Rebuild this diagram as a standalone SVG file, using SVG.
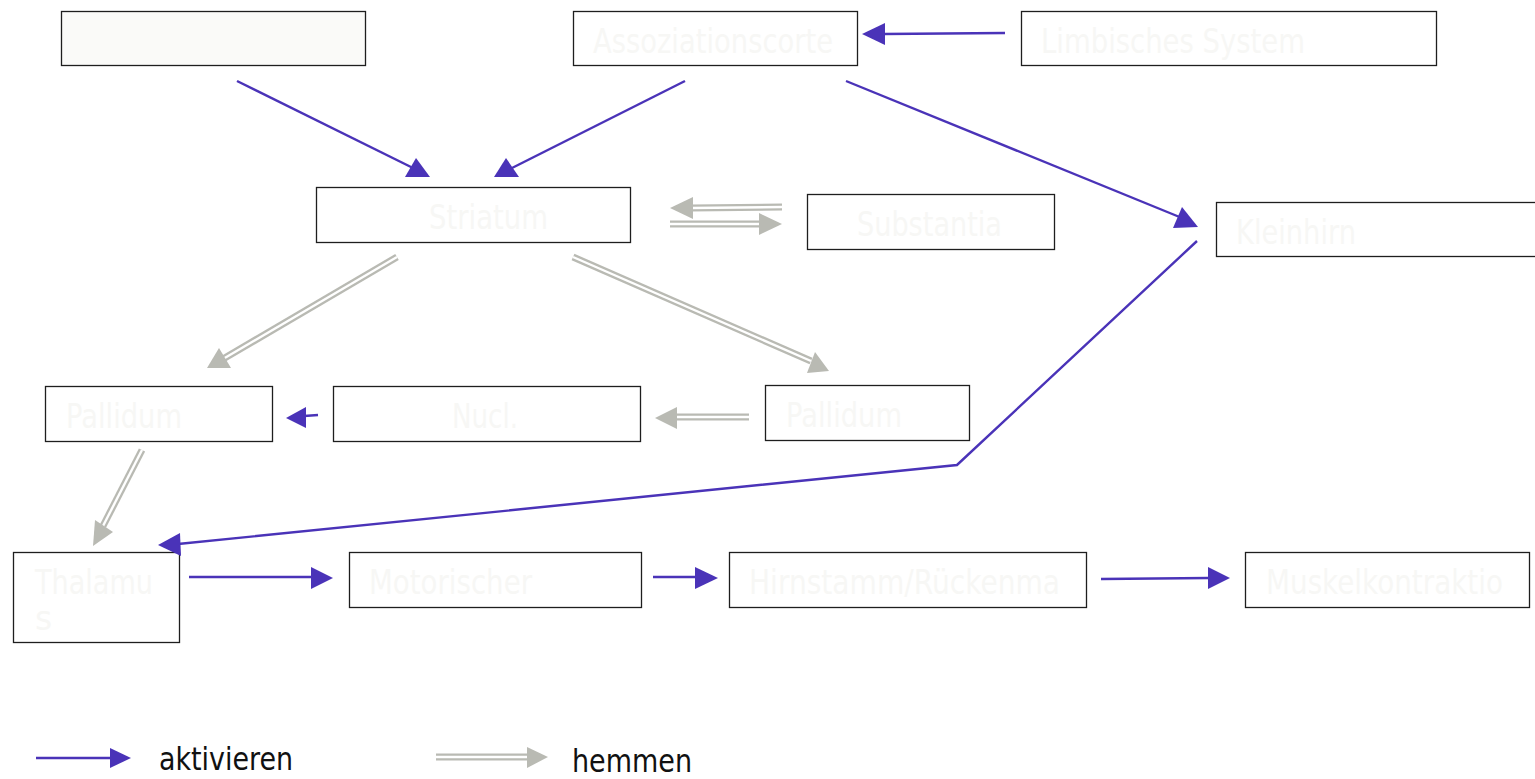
<svg xmlns="http://www.w3.org/2000/svg" width="1535" height="779" viewBox="0 0 1535 779">
<style>
.box{fill:#ffffff;stroke:#1e1e1e;stroke-width:1.3}
.lbl{font-family:"DejaVu Sans","Liberation Sans",sans-serif;font-size:33px;fill:#f7f7f5}
.leg{font-family:"DejaVu Sans Condensed","DejaVu Sans","Liberation Sans",sans-serif;font-size:32px;fill:#111111}
.act{fill:none;stroke:#4a33b8;stroke-width:2.4}
.acth{fill:#4a33b8}
.inh{fill:none;stroke:#b9bab3;stroke-width:7}
.inhw{fill:none;stroke:#ffffff;stroke-width:2.4}
.inhh{fill:#b9bab3}
</style>
<rect width="1535" height="779" fill="#ffffff"/>
<g id="n-blank"><rect class="box" x="61.5" y="11.5" width="304" height="54" style="fill:#fafaf8"/></g>
<g id="n-assoz"><rect class="box" x="573.5" y="11.5" width="284" height="54"/><text class="lbl" x="593" y="53" textLength="240" lengthAdjust="spacingAndGlyphs">Assoziationscorte</text></g>
<g id="n-limb"><rect class="box" x="1021.5" y="11.5" width="415" height="54"/><text class="lbl" x="1041" y="53" textLength="264" lengthAdjust="spacingAndGlyphs">Limbisches System</text></g>
<g id="n-striatum"><rect class="box" x="316.5" y="187.5" width="314" height="55"/><text class="lbl" x="429" y="229" textLength="119" lengthAdjust="spacingAndGlyphs">Striatum</text></g>
<g id="n-subst"><rect class="box" x="807.5" y="194.5" width="247" height="55"/><text class="lbl" x="857" y="236" textLength="145" lengthAdjust="spacingAndGlyphs">Substantia</text></g>
<g id="n-klein"><rect class="box" x="1216.5" y="202.5" width="330" height="54"/><text class="lbl" x="1236" y="244" textLength="120" lengthAdjust="spacingAndGlyphs">Kleinhirn</text></g>
<g id="n-pall1"><rect class="box" x="45.5" y="386.5" width="227" height="55"/><text class="lbl" x="66" y="428" textLength="116" lengthAdjust="spacingAndGlyphs">Pallidum</text></g>
<g id="n-nucl"><rect class="box" x="333.5" y="386.5" width="307" height="55"/><text class="lbl" x="452" y="428" textLength="66" lengthAdjust="spacingAndGlyphs">Nucl.</text></g>
<g id="n-pall2"><rect class="box" x="765.5" y="385.5" width="204" height="55"/><text class="lbl" x="786" y="427" textLength="116" lengthAdjust="spacingAndGlyphs">Pallidum</text></g>
<g id="n-thal"><rect class="box" x="13.5" y="552.5" width="166" height="90"/><text class="lbl" x="35" y="594" textLength="118" lengthAdjust="spacingAndGlyphs">Thalamu</text><text class="lbl" x="35" y="630">s</text></g>
<g id="n-motor"><rect class="box" x="349.5" y="552.5" width="292" height="55"/><text class="lbl" x="369" y="594" textLength="163" lengthAdjust="spacingAndGlyphs">Motorischer</text></g>
<g id="n-hirn"><rect class="box" x="729.5" y="552.5" width="357" height="55"/><text class="lbl" x="749" y="594" textLength="311" lengthAdjust="spacingAndGlyphs">Hirnstamm/Rückenma</text></g>
<g id="n-muskel"><rect class="box" x="1245.5" y="552.5" width="284" height="55"/><text class="lbl" x="1266" y="594" textLength="237" lengthAdjust="spacingAndGlyphs">Muskelkontraktio</text></g>
<g id="connectors">
<path class="act" d="M237,81 L413,168"/><polygon class="acth" points="405,177 430,177 416,158"/>
<path class="act" d="M685,81 L510,169"/><polygon class="acth" points="494,177 519,177 506,158"/>
<path class="act" d="M1005,33 L884,34"/><polygon class="acth" points="862,34 885,23 885,45"/>
<path class="act" d="M846,81 L1182,218"/><polygon class="acth" points="1198,227 1182,207 1173,228"/>
<path class="act" d="M1197,241 L957,465 L178,544"/><polygon class="acth" points="158,545 180,533 181,556"/>
<path class="act" d="M318,415 L304,416"/><polygon class="acth" points="286,418 306,407 306,428"/>
<path class="act" d="M189,577 L312,577"/><polygon class="acth" points="333,578 311,567 311,589"/>
<path class="act" d="M653,577 L696,577"/><polygon class="acth" points="718,578 695,567 695,589"/>
<path class="act" d="M1101,579 L1209,578"/><polygon class="acth" points="1230,578 1208,567 1208,589"/>
<path class="inh" d="M782,207 L691,208"/><path class="inhw" d="M782,207 L691,208"/><polygon class="inhh" points="670,208 693,197 693,219"/>
<path class="inh" d="M670,224 L760,224"/><path class="inhw" d="M670,224 L760,224"/><polygon class="inhh" points="782,224 759,213 759,235"/>
<path class="inh" d="M397,257 L223,359"/><path class="inhw" d="M397,257 L223,359"/><polygon class="inhh" points="207,368 219,348 231,368"/>
<path class="inh" d="M573,257 L811,361"/><path class="inhw" d="M573,257 L811,361"/><polygon class="inhh" points="829,371 815,352 807,373"/>
<path class="inh" d="M749,417 L677,417"/><path class="inhw" d="M749,417 L677,417"/><polygon class="inhh" points="655,418 677,407 677,429"/>
<path class="inh" d="M142,450 L103,526"/><path class="inhw" d="M142,450 L103,526"/><polygon class="inhh" points="93,546 95,520 113,532"/>
</g>
<g id="legend">
<path class="act" d="M36,758 L111,758"/><polygon class="acth" points="131,758 110,748 110,768"/>
<text class="leg" x="159" y="770" textLength="134" lengthAdjust="spacingAndGlyphs">aktivieren</text>
<path class="inh" d="M436,757 L528,757"/><path class="inhw" d="M436,757 L528,757"/><polygon class="inhh" points="548,757 527,747 527,768"/>
<text class="leg" x="572" y="772" textLength="120" lengthAdjust="spacingAndGlyphs">hemmen</text>
</g>
</svg>
